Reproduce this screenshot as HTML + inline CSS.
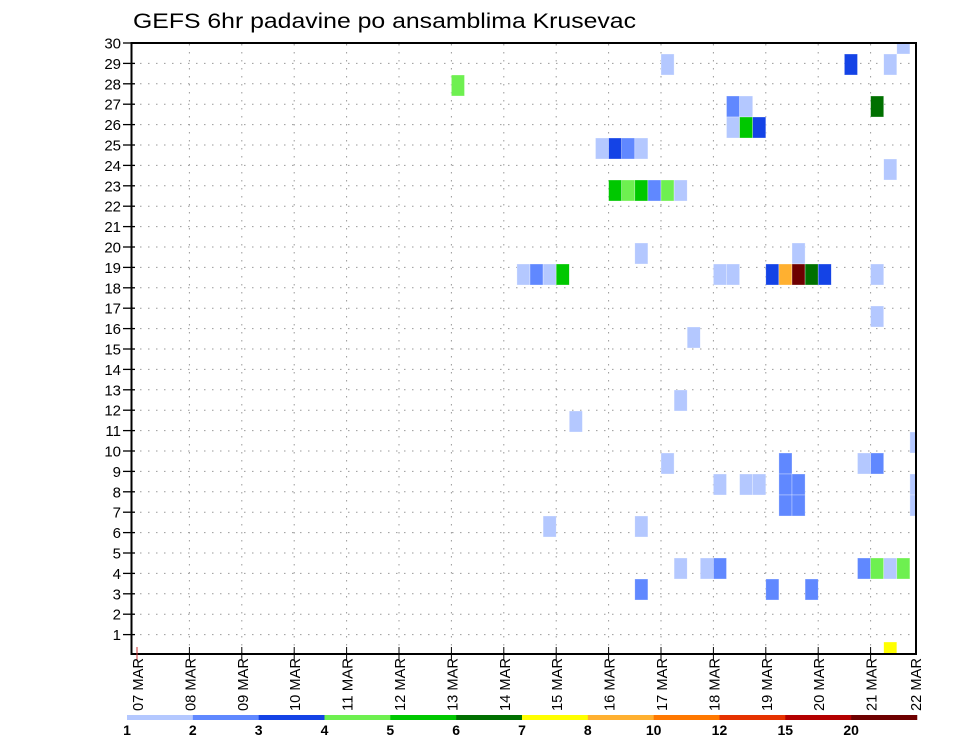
<!DOCTYPE html>
<html><head><meta charset="utf-8"><title>GEFS 6hr padavine po ansamblima Krusevac</title>
<style>html,body{margin:0;padding:0;background:#fff;}svg{display:block;}</style></head>
<body>
<svg id="chart" width="960" height="742" viewBox="0 0 960 742" xmlns="http://www.w3.org/2000/svg" font-family="Liberation Sans, sans-serif">
<rect width="960" height="742" fill="#fff"/>
<text x="133" y="28" font-size="21" textLength="503" lengthAdjust="spacingAndGlyphs" fill="#000">GEFS 6hr padavine po ansamblima Krusevac</text>
<defs><clipPath id="plotclip"><rect x="132" y="44" width="784" height="610"/></clipPath></defs>
<g id="grid"></g>
<g id="cells" clip-path="url(#plotclip)"></g>
<rect x="131.5" y="43" width="784.5" height="611" fill="none" stroke="#000" stroke-width="2"/>
<g id="yaxis"></g>
<g id="xaxis"></g>
<g id="legend"></g>
</svg>
<script>
// Data (member, 6-hour step index from 07 MAR 00Z, precipitation mm)
const members = [30,29,29,29,28,27,27,27,26,26,26,25,25,25,25,24,
  23,23,23,23,23,23,20,20,19,19,19,19,19,19,19,19,19,19,19,19,19,17,16,13,12,11,
  10,10,10,10,9,9,9,9,9,9,8,8,8,7,7,5,5,5,5,5,5,5,4,4,4,1];
const steps = [58,40,54,57,24,45,46,56,45,46,47,35,36,37,38,57,
  36,37,38,39,40,41,38,50,29,30,31,32,44,45,48,49,50,51,52,56,56,56,42,41,33,59,
  40,49,55,56,44,46,47,49,50,59,49,50,59,31,38,41,43,44,55,56,57,58,38,48,51,57];
const values = [1.5,1.5,3.5,1.5,4.5,2.5,1.5,6.5,1.5,5.5,3.5,1.5,3.5,2.5,1.5,1.5,
  5.5,4.5,5.5,2.5,4.5,1.5,1.5,1.5,1.5,2.5,1.5,5.5,1.5,1.5,3.5,9,22,6.5,3.5,1.5,1.5,1.5,1.5,1.5,1.5,1.5,
  1.5,2.5,1.5,2.5,1.5,1.5,1.5,2.5,2.5,1.5,2.5,2.5,1.5,1.5,1.5,1.5,1.5,2.5,2.5,4.5,1.5,4.5,2.5,2.5,2.5,7.5];
const levels = [1,2,3,4,5,6,7,8,10,12,15,20];
const levelColors = ["#b4c8ff","#6088ff","#1443e6","#6ef050","#00c800","#007000","#ffff00","#ffb030","#ff7800","#e63200","#b40000","#6e0000"];
const dayLabels = ["07","08","09","10","11","12","13","14","15","16","17","18","19","20","21","22"];
const memberTicks = [1,2,3,4,5,6,7,8,9,10,11,12,13,14,15,16,17,18,19,20,21,22,23,24,25,26,27,28,29,30];

const NS="http://www.w3.org/2000/svg";
function mk(tag, attrs, parent){const e=document.createElementNS(NS,tag);for(const k in attrs)e.setAttribute(k,attrs[k]);parent.appendChild(e);return e;}
const X0=137, DAY=52.4, STEP=DAY/4;
const xDay = d => X0 + d*DAY;
const xStep = k => X0 + k*STEP;
const yLabel = m => 655 - 20.4*m;
const CELLH = 21;
const yCell = m => 43.5 + (30-m)*CELLH;
function colorFor(v){let idx=0;for(let i=0;i<levels.length;i++){if(v>=levels[i])idx=i;}return levelColors[idx];}

const grid=document.getElementById('grid');
for(let m=1;m<30;m++){
  const l=mk('line',{x1:132,x2:916,y1:yLabel(m),y2:yLabel(m),stroke:'#999','stroke-width':1,'stroke-dasharray':'1.5 6.5'},grid);
  
  
}
for(let d=1;d<15;d++){
  const l=mk('line',{x1:xDay(d),x2:xDay(d),y1:44,y2:654,stroke:'#999','stroke-width':1,'stroke-dasharray':'1.5 6.5'},grid);
  
  
}

const cells=document.getElementById('cells');
for(let i=0;i<values.length;i++){
  const r=mk('rect',{x:xStep(steps[i]),y:yCell(members[i])-CELLH/2,width:STEP,height:CELLH,fill:colorFor(values[i]),stroke:'#fff','stroke-width':0.6,'stroke-opacity':0.5},cells);
  
  
}

const ya=document.getElementById('yaxis');
memberTicks.forEach(m=>{
  const y=yLabel(m);
  const t=mk('line',{x1:123,x2:135,y1:y,y2:y,stroke:'#000','stroke-width':1.3},ya);
  
  
  const tx=mk('text',{x:121,y:y+5.5,'font-size':15,'text-anchor':'end',fill:'#000'},ya);
  tx.textContent=String(m);
  
  
});

const xa=document.getElementById('xaxis');
dayLabels.forEach((lab,d)=>{
  const x = d<15 ? xDay(d) : 915;
  if(d<15){
    const t=mk('line',{x1:x,x2:x,y1:647,y2:660,stroke:d===0?'#c33':'#000','stroke-width':1},xa);
    
    
  }
  const tx=mk('text',{x:0,y:0,'font-size':15,fill:'#000',transform:`translate(${x+6},711) rotate(-90)`,textLength:53,lengthAdjust:'spacingAndGlyphs'},xa);
  tx.setAttribute('xml:space','preserve');
  tx.textContent=lab+'  MAR';
  
  
});

const lg=document.getElementById('legend');
const LX=127, LW=65.83;
levels.forEach((lv,i)=>{
  const r=mk('rect',{x:LX+i*LW,y:715,width:LW+0.3,height:5,fill:levelColors[i]},lg);
  
  
  const t=mk('text',{x:LX+i*LW,y:735,'font-size':14,'font-weight':'bold','text-anchor':'middle',fill:'#000'},lg);
  t.textContent=String(lv);
  
  
});
</script>
</body></html>
